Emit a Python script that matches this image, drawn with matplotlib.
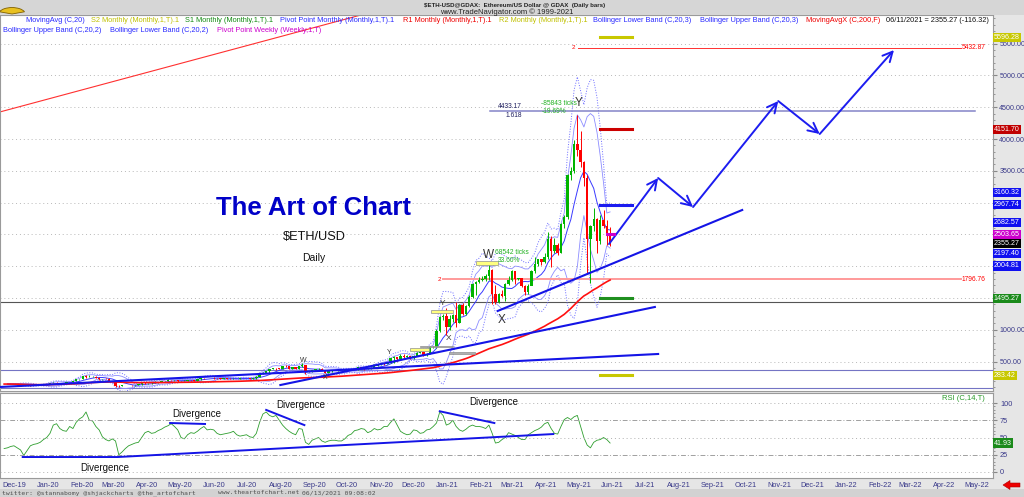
import matplotlib
matplotlib.use("Agg")
import matplotlib.pyplot as plt
import matplotlib.dates as mdates
import matplotlib.transforms as mtrans
from matplotlib.patches import Rectangle, FancyArrow, Wedge
import numpy as np
import pandas as pd

plt.rcParams['font.family'] = ['Liberation Sans', 'DejaVu Sans']

W, H = 1024, 497

# ---- data: 3-day bars, closing dates 2019-12-03 .. 2021-06-11 ----
first_open = 150
closes = [
    147, 148, 147, 145, 142, 132, 128, 128, 127, 132,
    127, 136, 141, 142, 165, 171, 167, 162, 167, 175,
    182, 189, 222, 224, 267, 259, 260, 262, 248, 227,
    230, 228, 200, 194, 123, 112, 132, 135, 138, 125,
    133, 141, 170, 157, 158, 172, 180, 182, 195, 197,
    212, 207, 212, 188, 199, 200, 214, 208, 200, 220,
    244, 243, 244, 247, 238, 235, 228, 242, 232, 226,
    231, 229, 240, 242, 240, 232, 235, 264, 304, 318,
    345, 385, 396, 392, 388, 432, 424, 390, 408, 382,
    428, 440, 335, 337, 367, 377, 389, 370, 322, 354,
    359, 346, 353, 350, 374, 378, 366, 368, 413, 393,
    387, 395, 402, 436, 449, 475, 460, 480, 556, 568,
    540, 590, 570, 590, 560, 590, 635, 655, 610, 625,
    730, 737, 975, 1205, 1225, 1045, 1170, 1230, 1115, 1390,
    1250, 1380, 1510, 1720, 1745, 1785, 1800, 1845, 1935, 1570,
    1445, 1570, 1530, 1720, 1790, 1925, 1800, 1810, 1690, 1590,
    1690, 1920, 2030, 2110, 2070, 2140, 2430, 2235, 2330, 2210,
    2660, 2770, 3430, 3490, 3920, 3820, 3640, 3380, 2430, 2640,
    2740, 2390, 2720, 2630, 2510, 2355]
highs = [
    151, 150, 151, 149, 146, 145, 133, 134, 130, 135,
    134, 137, 145, 148, 168, 180, 172, 170, 170, 178,
    186, 192, 224, 228, 275, 287, 284, 272, 272, 252,
    233, 238, 235, 203, 196, 130, 136, 138, 140, 140,
    137, 145, 173, 176, 164, 173, 188, 185, 198, 199,
    228, 216, 215, 214, 203, 207, 216, 215, 214, 224,
    252, 246, 248, 250, 252, 244, 237, 245, 244, 236,
    235, 232, 244, 246, 244, 240, 238, 274, 306, 330,
    347, 390, 402, 400, 394, 438, 440, 427, 410, 412,
    431, 478, 448, 358, 373, 384, 392, 392, 375, 362,
    361, 359, 357, 357, 377, 384, 378, 375, 418, 416,
    398, 398, 412, 460, 460, 478, 480, 481, 559, 595,
    580, 618, 615, 597, 594, 598, 645, 658, 660, 628,
    750, 752, 1020, 1215, 1245, 1350, 1240, 1248, 1440, 1400,
    1420, 1390, 1540, 1740, 1770, 1830, 1840, 1870, 2040, 1960,
    1700, 1575, 1620, 1730, 1840, 1940, 1930, 1820, 1810, 1700,
    1720, 1940, 2145, 2120, 2120, 2200, 2540, 2480, 2450, 2360,
    2680, 2800, 3450, 3560, 3980, 4380, 4130, 3650, 3440, 2650,
    2910, 2760, 2800, 2890, 2720, 2620]
lows = [
    145, 144, 145, 143, 140, 117, 126, 126, 124, 126,
    126, 126, 136, 138, 141, 160, 163, 158, 156, 165,
    174, 180, 188, 215, 222, 240, 252, 257, 245, 215,
    218, 222, 196, 188, 95, 108, 112, 125, 128, 124,
    123, 131, 140, 152, 150, 152, 170, 168, 181, 184,
    195, 201, 197, 182, 184, 195, 198, 197, 196, 198,
    218, 233, 238, 242, 230, 226, 224, 223, 224, 221,
    224, 225, 226, 236, 236, 230, 230, 233, 262, 300,
    315, 320, 384, 373, 380, 384, 410, 384, 385, 377,
    378, 420, 310, 330, 333, 365, 372, 365, 314, 321,
    343, 345, 340, 337, 346, 370, 363, 364, 366, 380,
    370, 383, 385, 400, 430, 446, 450, 455, 476, 480,
    505, 535, 560, 562, 548, 545, 585, 630, 585, 595,
    620, 710, 720, 960, 1150, 920, 1000, 1130, 1050, 1100,
    1230, 1230, 1360, 1500, 1550, 1740, 1770, 1770, 1780, 1400,
    1410, 1420, 1510, 1450, 1700, 1770, 1720, 1790, 1670, 1550,
    1560, 1770, 1900, 2010, 2020, 2050, 2120, 1980, 2200, 2170,
    2200, 2600, 2750, 3350, 3460, 3730, 3560, 3260, 1900, 1740,
    2560, 2200, 2350, 2600, 2330, 2320]
rsi_vals = [
    34, 35, 37, 38, 35, 32, 24, 31, 38, 40,
    41, 43, 47, 50, 56, 68, 70, 63, 60, 59,
    66, 63, 72, 77, 80, 87, 75, 74, 66, 61,
    51, 47, 45, 48, 45, 25, 29, 34, 38, 40,
    42, 43, 50, 57, 59, 56, 57, 60, 62, 65,
    67, 70, 66, 61, 50, 48, 54, 57, 56, 59,
    63, 66, 61, 62, 61, 56, 54, 55, 56, 57,
    59, 54, 52, 53, 54, 51, 50, 56, 72, 84,
    87, 82, 80, 82, 75, 68, 63, 59, 56, 54,
    63, 62, 43, 40, 46, 48, 50, 45, 43, 45,
    46, 46, 45, 45, 48, 53, 55, 60, 61, 63,
    62, 57, 59, 63, 61, 62, 66, 66, 72, 77,
    68, 59, 56, 54, 55, 61, 60, 56, 57, 61,
    62, 66, 71, 87, 82, 68, 70, 75, 66, 61,
    59, 62, 66, 68, 66, 66, 65, 63, 68, 56,
    42, 43, 47, 50, 57, 55, 53, 50, 47, 47,
    54, 57, 60, 62, 65, 70, 72, 63, 56, 55,
    66, 76, 79, 76, 80, 82, 66, 50, 39, 35,
    43, 46, 47, 50, 47, 42]
bar_dates = pd.date_range('2019-12-03', periods=len(closes), freq='3D')

# monthly / weekly pivot levels for June 2021
pivot_vals = [5596.28, 4151.70, 2967.74, 1495.27, 283.42]
weekly_pivot = 2503.65
# value flags on the right axis
flag_vals = [5596.28, 4151.70, 3160.32, 2967.74, 2682.57, 2503.65,
             2355.27, 2197.40, 2004.81, 1495.27, 283.42]
rsi_last = 41.93

# projection path (date, price)
proj_dates = ['2021-06-09', '2021-07-24', '2021-08-25', '2021-11-11', '2021-12-19', '2022-02-25']
proj_prices = [2349, 3387, 2931, 4597, 4079, 5399]

price_ticks = [500, 1000, 1500, 2000, 2500, 3000, 3500, 4000, 4500, 5000, 5500]
hidden_ticks = [1500, 2000, 2500, 3000]   # covered by value flags

months = pd.date_range('2019-12-01', '2022-05-01', freq='MS') + pd.Timedelta(days=11)
month_labels = [m.strftime('%b-%y') for m in months]

# ---- figure ----
fig = plt.figure(figsize=(W / 100, H / 100), dpi=100, facecolor='#e6e6e6')


def fx(px):
    return px / W


def fy(py):
    return 1 - py / H


fig.patches.append(Rectangle((0, fy(15)), 1, 15 / H, transform=fig.transFigure,
                             fc='#d6d6d6', ec='none', zorder=0))
fig.patches.append(Rectangle((0, 0), 1, 8 / H, transform=fig.transFigure,
                             fc='#d2d2d2', ec='none', zorder=0))

ax1 = fig.add_axes([0, fy(391), fx(993), (391 - 15) / H])
ax2 = fig.add_axes([0, fy(478), fx(993), (478 - 393) / H], sharex=ax1)
for a in (ax1, ax2):
    a.set_facecolor('white')
    for s in a.spines.values():
        s.set_color('#9a9a9a')
        s.set_linewidth(0.8)

xnum = mdates.date2num(bar_dates)
c = np.array(closes, float)
o = np.array([first_open] + closes[:-1], float)
hi = np.array(highs, float)
lo = np.array(lows, float)
col = np.where(c >= o, '#00b400', '#ff0000')

# indicators
s = pd.Series(c)
ma20 = s.rolling(7, min_periods=2).mean()
sd = s.rolling(7, min_periods=2).std(ddof=0)
ma200 = s.rolling(67, min_periods=1).mean()

ax1.plot(xnum, ma20 + 3 * sd, color='#6a6aff', lw=0.7, ls=':', zorder=2)
ax1.plot(xnum, ma20 - 3 * sd, color='#6a6aff', lw=0.7, ls=':', zorder=2)
ax1.plot(xnum, ma20 + 2 * sd, color='#8c8cff', lw=0.6, zorder=2)
ax1.plot(xnum, ma20 - 2 * sd, color='#8c8cff', lw=0.6, zorder=2)
ax1.plot(xnum, ma20, color='#3a3aff', lw=0.7, zorder=2)

ax1.vlines(xnum, lo, hi, colors=col, lw=0.7, zorder=3)
ax1.bar(xnum, np.abs(c - o), bottom=np.minimum(o, c), width=2.2, color=col, zorder=3)
ax1.plot(xnum, ma200, color='#ff1010', lw=1.2, zorder=4)

ax1.set_ylim(38, 5950)
ax1.set_xlim(mdates.date2num(pd.Timestamp('2019-11-29 05:00')),
             mdates.date2num(pd.Timestamp('2022-05-26 17:00')))
ax1.yaxis.tick_right()
ax1.set_yticks(price_ticks)
ax1.set_yticklabels(['' if t in hidden_ticks else f'{t:.2f}' for t in price_ticks])
ax1.set_yticks(np.arange(100, 5901, 100), minor=True)
ax1.tick_params(axis='y', which='major', labelsize=5.1, labelcolor='#3a3a8a',
                length=3, color='#888888', pad=1.5)
ax1.tick_params(axis='y', which='minor', length=1.5, color='#888888')
ax1.tick_params(axis='x', which='both', length=0, labelbottom=False)
ax1.grid(axis='y', which='major', ls=(0, (1, 3)), color='#b8b8b8', lw=0.7)

d = lambda t: mdates.date2num(pd.Timestamp(t))

# horizontal lines
ax1.axhline(1440, color='#555555', lw=0.8, zorder=1)
ax1.axhline(368, color='#7474c4', lw=0.8, zorder=1)
ax1.axhline(85, color='#7474c4', lw=0.8, zorder=1)
ax1.plot([d('2021-02-20'), d('2022-05-10')], [4433.17, 4433.17], color='#8484c8', lw=1.1, zorder=2)
ax1.plot([d('2021-05-12'), d('2022-04-27')], [5432.87, 5432.87], color='#ff3030', lw=0.7, zorder=2)
ax1.plot([d('2021-01-08'), d('2022-04-27')], [1796.76, 1796.76], color='#ff9a9a', lw=1.4, zorder=2)
ax1.text(d('2021-05-09'), 5432.87, '2', color='red', fontsize=4.5, ha='right', va='center')
ax1.text(d('2021-01-06'), 1796.76, '2', color='red', fontsize=4.5, ha='right', va='center')
ax1.text(d('2022-05-20'), 5432.87, '5432.87', color='red', fontsize=4.8, ha='right', va='center')
ax1.text(d('2022-05-20'), 1796.76, '1796.76', color='red', fontsize=4.8, ha='right', va='center')
ax1.text(d('2021-03-21'), 4519, '4433.17', color='#202060', fontsize=4.8, ha='right', va='center')
ax1.text(d('2021-03-21'), 4362, '1.618', color='#202060', fontsize=4.8, ha='right', va='center')

# long red diagonal
ax1.plot([d('2019-11-29'), d('2020-11-10')], [4425, 6025], color='#ff3030', lw=0.8, zorder=2)

# trend lines
tl = '#1414e6'
ax1.plot([d('2021-02-27'), d('2021-10-09')], [1296, 2884], color=tl, lw=1.5, zorder=5)
ax1.plot([d('2020-08-12'), d('2021-07-21')], [132, 1359], color=tl, lw=1.5, zorder=5)
ax1.plot([d('2019-11-29'), d('2021-07-24')], [101, 620], color=tl, lw=1.5, zorder=5)

# projection path
for i in range(len(proj_dates) - 1):
    ax1.annotate('', xy=(d(proj_dates[i + 1]), proj_prices[i + 1]),
                 xytext=(d(proj_dates[i]), proj_prices[i]),
                 arrowprops=dict(arrowstyle='->,head_length=0.7,head_width=0.35',
                                 color='#1c1cf0', lw=1.4, shrinkA=0, shrinkB=0), zorder=6)

# pivot segments
pcols = ['#c8c800', '#cc0000', '#1c1cf0', '#1f8f1f', '#c8c800']
for v, pc in zip(pivot_vals, pcols):
    ax1.plot([d('2021-06-01'), d('2021-06-30')], [v, v], color=pc, lw=2.2, zorder=6)
ax1.plot([d('2021-06-07'), d('2021-06-14')], [weekly_pivot, weekly_pivot], color='#cc00cc', lw=2.2, zorder=6)

# fib boxes
boxes = [('2021-02-07', '2021-02-27', 2019, 2082, '#ffff80'),
         ('2020-12-28', '2021-01-17', 1264, 1311, '#ffff80'),
         ('2020-12-09', '2020-12-26', 667, 714, '#ffff80'),
         ('2020-12-18', '2021-01-17', 722, 753, '#b0b0b0'),
         ('2021-01-13', '2021-02-06', 620, 651, '#b0b0b0')]
for a_, b_, p0, p1, fc in boxes:
    ax1.add_patch(Rectangle((d(a_), p0), d(b_) - d(a_), p1 - p0, fc=fc, ec='#909090', lw=0.5, zorder=5))

# wave labels
ax1.text(d('2021-02-19'), 2176, 'W', fontsize=8.5, color='#333333', ha='center', va='center', zorder=7)
ax1.text(d('2021-03-03'), 1154, 'X', fontsize=8.5, color='#333333', ha='center', va='center', zorder=7)
ax1.text(d('2021-05-12'), 4566, 'Y', fontsize=8.5, color='#333333', ha='center', va='center', zorder=7)
ax1.text(d('2021-01-08'), 1421, 'Y', fontsize=6, color='#333333', ha='center', va='center', zorder=7)
ax1.text(d('2021-01-13'), 871, 'X', fontsize=6, color='#333333', ha='center', va='center', zorder=7)
ax1.text(d('2020-09-02'), 525, 'W', fontsize=5, color='#333333', ha='center', va='center', zorder=7)
ax1.text(d('2020-09-22'), 258, 'X', fontsize=5, color='#333333', ha='center', va='center', zorder=7)
ax1.text(d('2020-11-20'), 651, 'Y', fontsize=5, color='#333333', ha='center', va='center', zorder=7)
ax1.text(d('2021-04-08'), 4566, '-85843 ticks', fontsize=4.8, color='#22b022', va='center', zorder=7)
ax1.text(d('2021-04-08'), 4440, '-19.69%', fontsize=4.8, color='#22b022', va='center', zorder=7)
ax1.text(d('2021-02-25'), 2208, '68542 ticks', fontsize=4.8, color='#22b022', va='center', zorder=7)
ax1.text(d('2021-02-27'), 2097, '33.60%', fontsize=4.8, color='#22b022', va='center', zorder=7)

# right value flags
fcols = ['#c8c800', '#c00000', '#1010f0', '#1010f0', '#1010f0', '#cc00cc',
         '#000000', '#1010f0', '#1010f0', '#1a8a1a', '#c8c800']
bt = mtrans.blended_transform_factory(ax1.transAxes, ax1.transData)
for v, fc in zip(flag_vals, fcols):
    ax1.text(1.001, v, f'{v:.2f}', transform=bt, fontsize=5.1, color='white', va='center', ha='left',
             bbox=dict(boxstyle='square,pad=0.16', fc=fc, ec='none'), clip_on=False, zorder=20)

# ---- RSI panel ----
ax2.plot(xnum, rsi_vals, color='#2e9e2e', lw=0.6)
ax2.set_ylim(-8.7, 114.5)
for v in (100, 50, 0):
    ax2.axhline(v, color='#b0b0b0', lw=0.7, ls=(0, (1, 3)))
for v in (75, 25):
    ax2.axhline(v, color='#a0a0a0', lw=0.7, ls=(0, (5, 2, 1, 2)))
ax2.yaxis.tick_right()
ax2.set_yticks([0, 25, 50, 75, 100])
ax2.set_yticks(np.arange(0, 101, 5), minor=True)
ax2.tick_params(axis='y', which='major', labelsize=5.3, labelcolor='#3a3a8a', length=3, color='#888888', pad=2)
ax2.tick_params(axis='y', which='minor', length=1.5, color='#888888')
ax2.set_xticks(mdates.date2num(months))
ax2.set_xticklabels(month_labels)
ax2.tick_params(axis='x', length=0, labelsize=5.3, labelcolor='#3a3a8a', pad=3)

rl = '#1414e6'
ax2.plot([d('2019-12-20'), d('2020-03-16'), d('2021-04-19')], [21.7, 21.7, 55], color=rl, lw=1.4)
ax2.plot([d('2020-05-03'), d('2020-06-04')], [71, 69.6], color=rl, lw=1.4)
ax2.plot([d('2020-07-30'), d('2020-09-03')], [90, 68], color=rl, lw=1.4)
ax2.plot([d('2021-01-05'), d('2021-02-24')], [88, 71], color=rl, lw=1.4)
for t, v in [('2020-05-27', 84), ('2020-08-31', 97), ('2020-03-04', 6), ('2021-02-23', 101)]:
    ax2.text(d(t), v, 'Divergence', fontsize=7, ha='center', va='center', color='#111111')
bt2 = mtrans.blended_transform_factory(ax2.transAxes, ax2.transData)
ax2.text(0.992, 111, 'RSI (C,14,T)', transform=bt2, fontsize=5.5, color='#2a9a2a', ha='right', va='top')
ax2.text(1.001, rsi_last, f'{rsi_last:.2f}', transform=bt2, fontsize=5.1, color='white', va='center',
         ha='left', bbox=dict(boxstyle='square,pad=0.16', fc='#1a8a1a', ec='none'), clip_on=False, zorder=20)

# ---- header and legend texts ----
fig.text(fx(515), fy(5), '$ETH-USD@GDAX:  Ethereum/US Dollar @ GDAX  (Daily bars)', fontsize=4.4,
         fontweight='bold', ha='center', va='center', color='#222222')
fig.text(fx(507), fy(12.5), 'www.TradeNavigator.com \u00a9 1999-2021', fontsize=5.5, ha='center',
         va='center', color='#222222')
fig.patches.append(Wedge((fx(12), fy(14)), 0.013, 20, 160, transform=fig.transFigure,
                         fc='#e8c020', ec='#806000', lw=0.6))

row1 = [(26, 'MovingAvg (C,20)', '#2a2aff'),
        (91, 'S2 Monthly (Monthly,1,T).1', '#c0c000'),
        (185, 'S1 Monthly (Monthly,1,T).1', '#128a12'),
        (280, 'Pivot Point Monthly (Monthly,1,T).1', '#2a2aff'),
        (403, 'R1 Monthly (Monthly,1,T).1', '#ee0000'),
        (499, 'R2 Monthly (Monthly,1,T).1', '#c0c000'),
        (593, 'Bollinger Lower Band (C,20,3)', '#2a2aff'),
        (700, 'Bollinger Upper Band (C,20,3)', '#2a2aff'),
        (806, 'MovingAvgX (C,200,F)', '#ee0000'),
        (886, '06/11/2021 = 2355.27 (-116.32)', '#111111')]
row2 = [(3, 'Bollinger Upper Band (C,20,2)', '#2a2aff'),
        (110, 'Bollinger Lower Band (C,20,2)', '#2a2aff'),
        (217, 'Pivot Point Weekly (Weekly,1,T)', '#cc00cc')]
for xp, t, cc in row1:
    fig.text(fx(xp), fy(20.5), t, fontsize=5.3, color=cc, va='center')
for xp, t, cc in row2:
    fig.text(fx(xp), fy(30), t, fontsize=5.3, color=cc, va='center')

fig.text(fx(314), fy(208), 'The Art of Chart', fontsize=18.5, fontweight='bold', color='#0000c8',
         ha='center', va='center')
fig.text(fx(314), fy(237), '$ETH/USD', fontsize=9.2, color='#111111', ha='center', va='center')
fig.text(fx(314), fy(258), 'Daily', fontsize=7.5, color='#111111', ha='center', va='center')

# footer
for xp, t in [(2, 'twitter: @stannabomy @shjackcharts @the_artofchart'),
              (218, 'www.theartofchart.net'), (302, '06/13/2021 09:08:02')]:
    fig.text(fx(xp), fy(493), t, fontsize=4.6, family='DejaVu Sans Mono', color='#505050', va='center')

fig.patches.append(FancyArrow(fx(1020), fy(485), -fx(10), 0, width=4 / H, head_width=9 / H,
                              head_length=fx(7), length_includes_head=False,
                              transform=fig.transFigure, fc='#ee0000', ec='#aa0000', lw=0.4))

fig.savefig('out.png', dpi=100, facecolor=fig.get_facecolor())
